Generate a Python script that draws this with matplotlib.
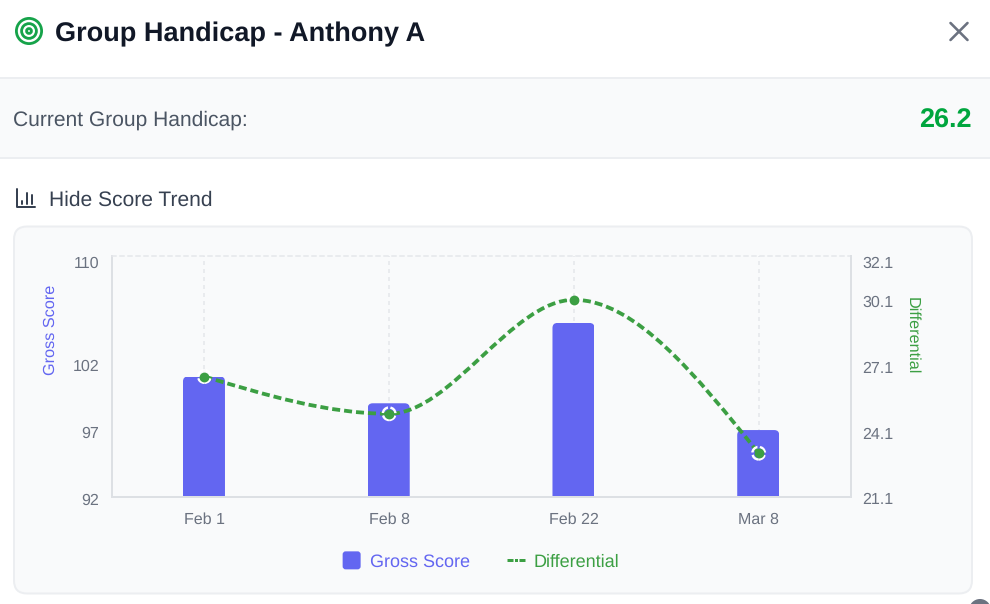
import numpy as np
import matplotlib
matplotlib.use("Agg")
import matplotlib.pyplot as plt
from matplotlib.path import Path
from matplotlib.patches import PathPatch, FancyBboxPatch, Circle, Rectangle
from matplotlib.lines import Line2D
from matplotlib.legend_handler import HandlerPatch
from matplotlib.transforms import ScaledTranslation

dates = ["Feb 1", "Feb 8", "Feb 22", "Mar 8"]
gross_score = [101, 99, 105, 97]
differential = [26.6, 24.9, 30.1, 23.1]
gross_ticks = [92, 97, 102, 110]
diff_ticks = [21.1, 24.1, 27.1, 30.1, 32.1]
handicap = "26.2"
player = "Anthony A"

INDIGO = "#6366F1"
GREEN = "#3C9F43"
TICK = "#6B7280"
BORDER = "#ECEEF1"
PANEL = "#F9FAFB"
AXIS = "#DDE0E4"
GRID = "#E5E7EB"

W, H = 990, 604
PX = 0.72  # points per pixel at 100 dpi

plt.rcParams["font.family"] = ["Liberation Sans", "DejaVu Sans"]
plt.rcParams["lines.scale_dashes"] = False
plt.rcParams["text.hinting"] = "no_hinting"

fig = plt.figure(figsize=(W / 100, H / 100), dpi=100, facecolor="white")

# Page layer in pixel units: header, summary strip, card
ui = fig.add_axes([0, 0, 1, 1], zorder=0)
ui.set_xlim(0, W)
ui.set_ylim(H, 0)
ui.axis("off")

for r in (12.6, 7.4, 2.4):
    ui.add_patch(Circle((29, 31), r, fc="none", ec="#16A34A", lw=2.8 * PX))
ui.text(55, 32, f"Group Handicap - {player}", fontsize=27.15 * PX, fontweight="bold",
        color="#111827", va="center_baseline")
ui.plot([950.5, 967.5], [23, 40], color=TICK, lw=2.6 * PX, solid_capstyle="round")
ui.plot([950.5, 967.5], [40, 23], color=TICK, lw=2.6 * PX, solid_capstyle="round")

ui.add_patch(Rectangle((0, 78), W, 80, fc=PANEL, ec="none"))
ui.plot([0, W], [78, 78], color=BORDER, lw=2 * PX)
ui.plot([0, W], [158, 158], color=BORDER, lw=2 * PX)
ui.text(13, 118, "Current Group Handicap:", fontsize=21 * PX, color="#4B5563",
        va="center_baseline")
ui.text(972, 118, handicap, fontsize=27 * PX, fontweight="bold", color="#00A63E",
        ha="right", va="center_baseline")

# Small bar-chart glyph beside the toggle
ui.plot([16.5, 16.5, 35], [188.5, 206.5, 206.5], color="#374151", lw=2 * PX,
        solid_capstyle="round", solid_joinstyle="round")
for gx, gy in ((21.5, 201), (27, 193), (32, 195)):
    ui.plot([gx, gx], [gy, 203.5], color="#374151", lw=2 * PX, solid_capstyle="round")
ui.text(49, 198, "Hide Score Trend", fontsize=21 * PX, color="#374151",
        va="center_baseline")

ui.add_patch(FancyBboxPatch((14, 226.5), 958, 367, boxstyle="round,pad=0,rounding_size=13",
                            fc=PANEL, ec=BORDER, lw=2 * PX))
ui.add_patch(Circle((980, 610), 11, fc="#6B7280", ec="none"))

# Chart axes
L, R, T, B = 112, 851, 256, 497
ax = fig.add_axes([L / W, 1 - B / H, (R - L) / W, (B - T) / H], zorder=1)
ax.patch.set_alpha(0)
x = np.arange(len(dates))
ax.set_xlim(-0.5, len(dates) - 0.5)
ax.set_ylim(92, 110)

ax.set_xticks(x, dates)
ax.set_yticks(gross_ticks)
ax.tick_params(axis="x", length=0, pad=15 * PX, labelsize=16 * PX, labelcolor=TICK)
ax.tick_params(axis="y", length=0, pad=13 * PX, labelsize=16 * PX, labelcolor=TICK)
ax.grid(axis="x", color=GRID, lw=1.5 * PX, linestyle=(0, (4 * PX, 4 * PX)))
ax.set_axisbelow(True)
for side in ("left", "bottom"):
    ax.spines[side].set_color(AXIS)
    ax.spines[side].set_linewidth(2 * PX)
ax.spines["right"].set_visible(False)
ax.spines["top"].set_color(GRID)
ax.spines["top"].set_linewidth(1.5 * PX)
ax.spines["top"].set_linestyle((0, (4 * PX, 4 * PX)))
ax.set_ylabel("Gross Score", color=INDIGO, fontsize=16.2 * PX)
ax.yaxis.set_label_coords((58.5 - L) / (R - L), (B - 330) / (B - T))

# Bars with rounded upper corners, done by clipping to a rounded outline
bar_w = 42 / ((R - L) / len(dates))
bars = ax.bar(x - 0.4 / ((R - L) / len(dates)), gross_score, width=bar_w, color=INDIGO,
              linewidth=0, zorder=2)
rx = 5 / ((R - L) / len(dates))
ry = 5 / ((B - T) / (ax.get_ylim()[1] - ax.get_ylim()[0]))
for rect, top in zip(bars, gross_score):
    x0, x1, y0 = rect.get_x(), rect.get_x() + rect.get_width(), 92
    verts = [(x0, y0), (x0, top - ry), (x0, top), (x0 + rx, top), (x1 - rx, top),
             (x1, top), (x1, top - ry), (x1, y0), (x0, y0)]
    codes = [Path.MOVETO, Path.LINETO, Path.CURVE3, Path.CURVE3, Path.LINETO,
             Path.CURVE3, Path.CURVE3, Path.LINETO, Path.CLOSEPOLY]
    rect.set_clip_path(Path(verts, codes), ax.transData)

# Secondary axis for the differential
ax2 = ax.twinx()
ax2.set_zorder(2)
ax2.patch.set_alpha(0)
ax2.set_ylim(21.1, 32.1)
ax2.set_yticks(diff_ticks)
ax2.tick_params(axis="y", length=0, pad=11.5 * PX, labelsize=16 * PX, labelcolor=TICK)
for side in ("left", "top", "bottom"):
    ax2.spines[side].set_visible(False)
ax2.spines["right"].set_color(AXIS)
ax2.spines["right"].set_linewidth(2 * PX)
ax2.set_ylabel("Differential", color=GREEN, fontsize=16.2 * PX, rotation=-90)
ax2.yaxis.set_label_coords((919.5 - L) / (R - L), (B - 336) / (B - T))

# Topmost labels sit just inside the axis height; the others drop slightly below their tick
nudge = ScaledTranslation(0, -1.6 / 100, fig.dpi_scale_trans)
for axis_obj in (ax, ax2):
    labels = axis_obj.get_yticklabels()
    labels[-1].set_verticalalignment("top")
    for label in labels[:-1]:
        label.set_transform(label.get_transform() + nudge)


def monotone_path(xs, ys):
    """Cubic Bezier path through the values with monotone tangents."""
    xs, ys = np.asarray(xs, float), np.asarray(ys, float)
    h = np.diff(xs)
    s = np.diff(ys) / h
    t = np.zeros_like(ys)
    for i in range(1, len(ys) - 1):
        p = (s[i - 1] * h[i] + s[i] * h[i - 1]) / (h[i - 1] + h[i])
        t[i] = (np.sign(s[i - 1]) + np.sign(s[i])) * min(abs(s[i - 1]), abs(s[i]), 0.5 * abs(p))
    t[0] = (3 * s[0] - t[1]) / 2
    t[-1] = (3 * s[-1] - t[-2]) / 2
    verts = [(xs[0], ys[0])]
    codes = [Path.MOVETO]
    for i in range(len(ys) - 1):
        d = h[i] / 3
        verts += [(xs[i] + d, ys[i] + d * t[i]), (xs[i + 1] - d, ys[i + 1] - d * t[i + 1]),
                  (xs[i + 1], ys[i + 1])]
        codes += [Path.CURVE4] * 3
    return Path(verts, codes)


DASH = (0, (8 * PX, 4 * PX))
ax2.add_patch(PathPatch(monotone_path(x, differential), fc="none", ec=GREEN, lw=3.8 * PX,
                        linestyle=DASH, capstyle="butt", zorder=3))
# Dot: white dashed ring around a solid green centre
ax2.scatter(x, differential, s=(12.6 * PX) ** 2, facecolors="none", edgecolors="white",
            linewidths=2.4 * PX, linestyle=(0, (8 * PX, 2.5 * PX)), zorder=4, clip_on=False)
ax2.scatter(x, differential, s=(9.8 * PX) ** 2, c=GREEN, linewidths=0, zorder=5, clip_on=False)


class RoundedSwatch(HandlerPatch):
    def create_artists(self, legend, orig_handle, xdescent, ydescent, width, height,
                       fontsize, trans):
        size = 18 * PX
        box = FancyBboxPatch((width / 2 - size / 2 - xdescent, height / 2 - size / 2 - ydescent),
                             size, size, boxstyle=f"round,pad=0,rounding_size={3 * PX}",
                             fc=INDIGO, ec="none", transform=trans)
        return [box]


swatch = Rectangle((0, 0), 1, 1, fc=INDIGO)
dash_key = Line2D([], [], color=GREEN, lw=3 * PX,
                  linestyle=(0, (6 * PX, 1.5 * PX, 3 * PX, 1.5 * PX)))
leg = fig.legend([swatch, dash_key], ["Gross Score", "Differential"],
                 handler_map={swatch: RoundedSwatch()}, ncols=2, loc="center",
                 bbox_to_anchor=(481 / W, 1 - 562 / H), frameon=False,
                 prop={"size": 18 * PX}, handlelength=1.0,
                 handletextpad=9 / 18, columnspacing=37 / 18, borderpad=0)
for txt, col in zip(leg.get_texts(), (INDIGO, GREEN)):
    txt.set_color(col)

fig.savefig("out.png", dpi=100)
